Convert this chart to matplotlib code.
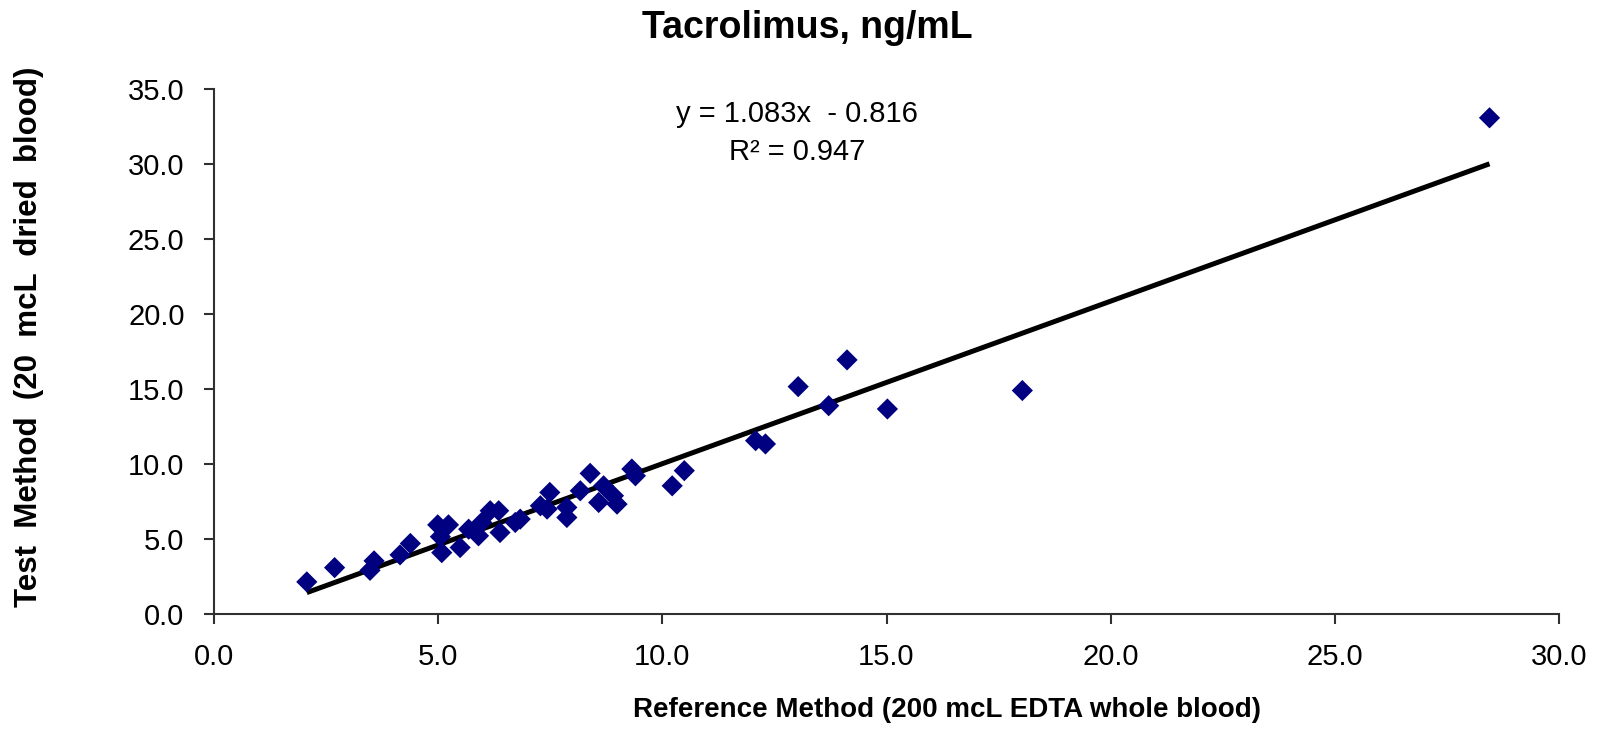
import matplotlib
matplotlib.use("Agg")
import matplotlib.pyplot as plt
import numpy as np

plt.rcParams['font.family'] = ['Liberation Sans', 'DejaVu Sans']

# ---- data ----
ref_method = [2.07, 2.69, 3.48, 3.57, 4.15, 4.38, 4.99, 5.23, 5.05, 5.08,
              5.49, 5.68, 5.90, 5.97, 6.16, 6.35, 6.38, 6.72, 6.83, 7.28,
              7.49, 7.43, 7.87, 7.87, 8.17, 8.39, 8.58, 8.69, 8.91, 8.99,
              9.32, 9.40, 10.22, 10.49, 12.08, 12.30, 13.03, 13.71, 14.12, 15.02,
              18.03, 28.45]
test_method = [2.14, 3.09, 2.91, 3.54, 3.94, 4.70, 5.94, 5.94, 5.15, 4.09,
               4.43, 5.65, 5.21, 6.10, 6.88, 6.88, 5.43, 6.10, 6.32, 7.21,
               8.10, 6.99, 7.10, 6.43, 8.21, 9.37, 7.43, 8.54, 7.88, 7.32,
               9.66, 9.21, 8.54, 9.55, 11.55, 11.33, 15.15, 13.88, 16.93, 13.66,
               14.89, 33.06]
slope = 1.083
intercept = -0.816
r_squared = 0.947
x_ticks = [0, 5, 10, 15, 20, 25, 30]
y_ticks = [0, 5, 10, 15, 20, 25, 30, 35]

title = "Tacrolimus, ng/mL"
x_label = "Reference Method (200 mcL EDTA whole blood)"
y_label = "Test  Method  (20  mcL  dried  blood)"

W, H = 1603, 733
fig = plt.figure(figsize=(W / 100, H / 100), dpi=100)
ax = fig.add_axes([214 / W, 1 - 614 / H, (1559 - 214) / W, (614 - 88.7) / H])

ax.scatter(ref_method, test_method, marker='D', s=10.8 ** 2, color='#000080',
           edgecolors='none', zorder=3)

xs = np.array([min(ref_method), max(ref_method)])
ax.plot(xs, slope * xs + intercept, color='black', lw=3.6, solid_capstyle='butt', zorder=2)

ax.set_xlim(0, 30)
ax.set_ylim(0, 35)
ax.set_xticks(x_ticks)
ax.set_yticks(y_ticks)
ax.set_xticklabels([f"{v:.1f}" for v in x_ticks])
ax.set_yticklabels([f"{v:.1f}" for v in y_ticks])
for s in ['top', 'right']:
    ax.spines[s].set_visible(False)
for s in ['left', 'bottom']:
    ax.spines[s].set_color('#303030')
    ax.spines[s].set_linewidth(1.5)
ax.tick_params(axis='both', direction='out', length=7.2, width=1.5, color='#303030',
               labelsize=21, labelcolor='black')
ax.tick_params(axis='x', pad=14)
ax.tick_params(axis='y', pad=14)

fig.text(807 / W, 1 - 38 / H, title, ha='center', va='baseline',
         fontsize=27, fontweight='bold')
fig.text(797 / W, 1 - 121.7 / H, f"y = {slope:.3f}x  - {abs(intercept):.3f}",
         ha='center', va='baseline', fontsize=21)
fig.text(797 / W, 1 - 160 / H, f"R\u00b2 = {r_squared:.3f}",
         ha='center', va='baseline', fontsize=21)
fig.text(947 / W, 1 - 710 / H, x_label, ha='center', va='center',
         fontsize=20, fontweight='bold')
fig.text(29 / W, 1 - 337 / H, y_label, ha='center', va='center', rotation=90,
         fontsize=22.5, fontweight='bold')

fig.savefig("out.png", dpi=100, facecolor='white')
